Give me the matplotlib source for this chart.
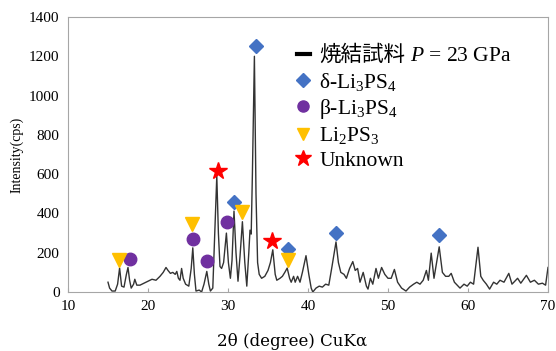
import matplotlib
matplotlib.use("Agg")
import matplotlib.pyplot as plt
from matplotlib.lines import Line2D

plt.rcParams['font.family'] = ['Liberation Serif', 'Noto Sans CJK JP']
plt.rcParams['mathtext.fontset'] = 'custom'
plt.rcParams['mathtext.rm'] = 'Liberation Serif'
plt.rcParams['mathtext.it'] = 'Liberation Serif:italic'

two_theta = [15.0, 15.2, 15.5, 15.9, 16.2, 16.45, 16.7, 17.0, 17.3, 17.5, 17.7, 17.9, 18.2, 18.35,
             18.6, 19.0, 19.5, 20.0, 20.5, 21.0, 21.5, 21.9, 22.25, 22.5, 22.8, 23.1, 23.4, 23.6,
             23.8, 24.0, 24.2, 24.4, 24.7, 25.1, 25.4, 25.6, 25.8, 26.0, 26.4, 26.7, 27.0, 27.35,
             27.6, 27.8, 28.1, 28.35, 28.6, 28.8, 29.0, 29.2, 29.45, 29.8, 30.05, 30.3, 30.5, 30.75,
             31.0, 31.25, 31.5, 31.8, 32.1, 32.35, 32.6, 32.75, 32.9, 33.05, 33.3, 33.5, 33.7, 33.9,
             34.2, 34.6, 35.0, 35.3, 35.6, 35.9, 36.1, 36.5, 36.8, 37.1, 37.4, 37.7, 37.9, 38.2,
             38.4, 38.7, 39.0, 39.3, 39.75, 40.1, 40.4, 40.6, 41.0, 41.4, 41.8, 42.2, 42.6, 43.0,
             43.5, 43.8, 44.1, 44.5, 44.8, 45.2, 45.6, 45.9, 46.2, 46.5, 46.9, 47.3, 47.5, 47.8,
             48.1, 48.5, 48.8, 49.2, 49.6, 50.0, 50.4, 50.8, 51.2, 51.7, 52.25, 52.7, 53.2, 53.6,
             54.0, 54.4, 54.8, 55.05, 55.4, 55.75, 56.4, 56.8, 57.2, 57.6, 57.9, 58.3, 59.0, 59.5,
             59.9, 60.3, 60.7, 61.25, 61.6, 61.9, 62.3, 62.7, 63.2, 63.6, 64.0, 64.5, 65.1, 65.5,
             66.2, 66.6, 67.3, 67.8, 68.3, 68.8, 69.3, 69.7, 70.0]
intensity = [50, 20, 5, 5, 40, 122, 30, 25, 90, 125, 60, 20, 40, 65,
             35, 35, 45, 55, 65, 60, 80, 100, 125, 110, 95, 100, 90, 105,
             70, 60, 120, 70, 40, 30, 120, 225, 90, 5, 10, 0, 40, 105,
             40, 5, 20, 300, 590, 300, 130, 120, 150, 300, 150, 70, 160, 412,
             200, 55, 180, 358, 150, 30, 200, 315, 295, 600, 1200, 500, 150, 90,
             70, 80, 110, 150, 215, 90, 60, 70, 80, 100, 122, 70, 50, 80,
             50, 80, 50, 100, 185, 90, 20, 0, 20, 30, 25, 40, 35, 130,
             255, 150, 100, 90, 70, 120, 155, 110, 120, 50, 100, 30, 15, 70,
             40, 120, 70, 125, 90, 70, 70, 115, 50, 20, 5, 25, 40, 50,
             40, 60, 110, 60, 198, 70, 230, 100, 80, 80, 95, 50, 20, 40,
             30, 50, 40, 228, 80, 60, 40, 15, 50, 40, 60, 50, 95, 40,
             70, 45, 85, 50, 60, 40, 45, 35, 125]

delta_x = [33.45, 30.75, 37.45, 43.5, 56.35]
delta_y = [1250, 460, 218, 300, 288]
beta_x = [17.7, 25.6, 27.35, 29.85]
beta_y = [170, 272, 160, 356]
li2ps3_x = [16.35, 25.55, 31.75, 37.45]
li2ps3_y = [165, 345, 408, 163]
unknown_x = [28.7, 35.55]
unknown_y = [615, 260]

fig = plt.figure(figsize=(5.56, 3.51), dpi=100)
ax = fig.add_axes([0.1223, 0.168, 0.8633, 0.7836])

ax.plot(two_theta, intensity, color='#333333', lw=1.0)
ax.plot(delta_x, delta_y, 'D', color='#4472C4', ms=7, ls='none')
ax.plot(beta_x, beta_y, 'o', color='#7030A0', ms=9, ls='none')
ax.plot(li2ps3_x, li2ps3_y, 'v', color='#FFC000', ms=10, ls='none')
ax.plot(unknown_x, unknown_y, '*', color='#FF0000', ms=13, ls='none')

ax.set_xlim(10, 70)
ax.set_ylim(0, 1400)
ax.set_xticks(range(10, 71, 10))
ax.set_yticks(range(0, 1401, 200))
for s in ax.spines.values():
    s.set_color('#A6A6A6')
    s.set_linewidth(0.8)
ax.tick_params(axis='x', direction='in', length=3, color='#A6A6A6', labelsize=11, pad=6)
ax.tick_params(axis='y', length=0, labelsize=11, pad=6)
ax.set_ylabel('Intensity(cps)', fontsize=10)
ax.yaxis.set_label_coords(-0.092, 0.5)
fig.text(0.526, 0.026, '2θ (degree) CuKα', fontsize=12, family='DejaVu Serif',
         ha='center', va='center')

handles = [
    Line2D([], [], color='black', lw=3),
    Line2D([], [], marker='D', color='#4472C4', ls='none', ms=7),
    Line2D([], [], marker='o', color='#7030A0', ls='none', ms=8),
    Line2D([], [], marker='v', color='#FFC000', ls='none', ms=9),
    Line2D([], [], marker='*', color='#FF0000', ls='none', ms=12),
]
labels = ['焼結試料', 'δ-Li$_3$PS$_4$', 'β-Li$_3$PS$_4$',
          'Li$_2$PS$_3$', 'Unknown']
leg = fig.legend(handles, labels, loc='upper left', bbox_to_anchor=(0.518, 0.894),
                 frameon=False, fontsize=15.5, handlelength=0.6, handletextpad=0.45,
                 labelspacing=0.2, borderaxespad=0)

fig.canvas.draw()
t0 = leg.get_texts()[0]
bb = t0.get_window_extent()
inv = fig.transFigure.inverted()
x1, y0 = inv.transform((bb.x1, bb.y0))
_, y1 = inv.transform((bb.x1, bb.y1))
fig.text(x1 + 0.008, (y0 + y1) / 2, '$\\mathit{P}$ = 23 GPa', fontsize=15.5,
         ha='left', va='center')

fig.savefig('out.png', dpi=100)
